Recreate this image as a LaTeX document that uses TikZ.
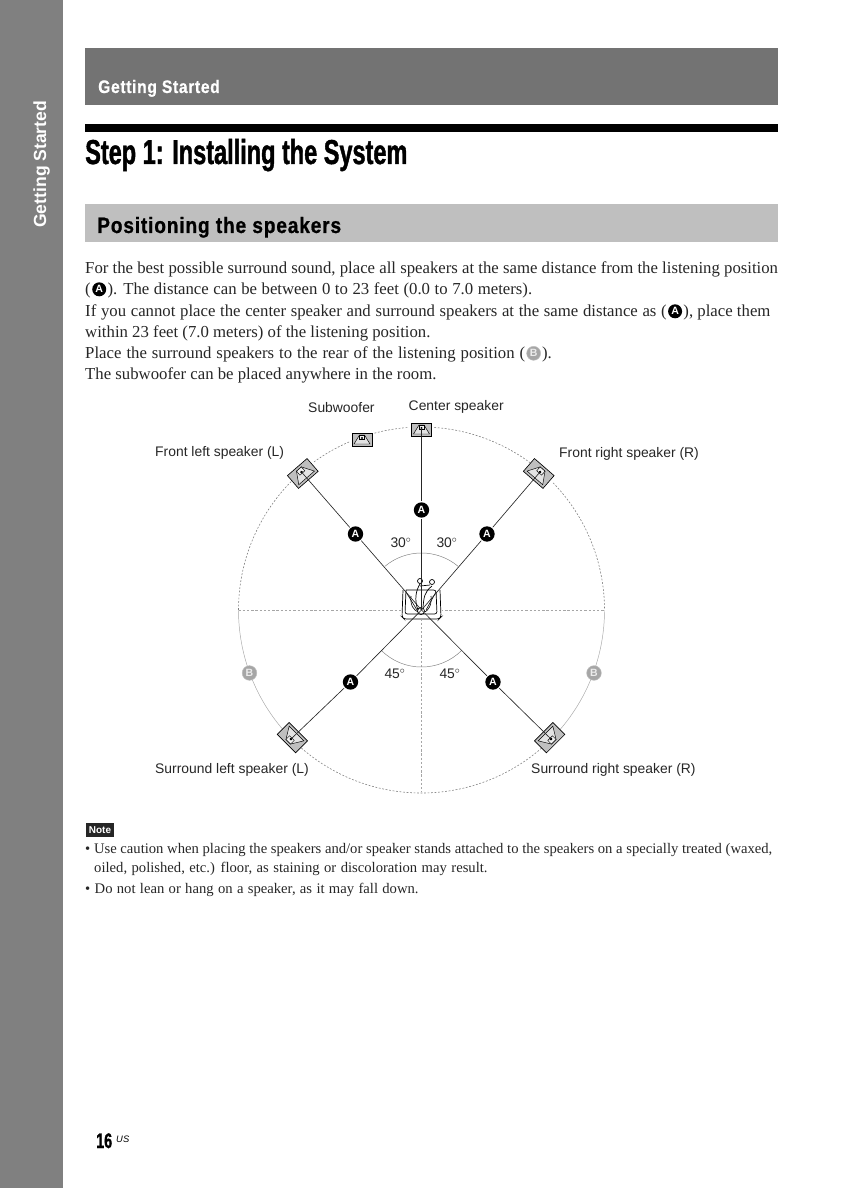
\documentclass[tikz,border=0pt]{standalone}
\usepackage{fontspec}
\setmainfont{Liberation Serif}
\setsansfont{Liberation Sans}
\newfontfamily\headfont[FakeStretch=0.68,FakeBold=1.2]{Liberation Sans}
\newfontfamily\subheadfont[FakeStretch=0.86,FakeBold=0.8,LetterSpace=3.7]{Liberation Sans}
\usetikzlibrary{positioning}
\definecolor{tabgray}{gray}{0.5}
\definecolor{bargray}{gray}{0.45}
\definecolor{subgray}{gray}{0.75}
\definecolor{inkgray}{gray}{0.15}
\tikzset{
  bodytext/.style={anchor=base west, inner sep=0pt, text=inkgray, text height=11pt, text depth=3pt, font=\fontsize{14.3}{16}\selectfont},
  notetext/.style={anchor=base west, inner sep=0pt, text=inkgray, font=\fontsize{12.5}{14}\selectfont},
  wordgap/.style={execute at begin node={\spaceskip=#1\relax}},
  speakerlabel/.style={anchor=base west, inner sep=0pt, text=inkgray, font=\sffamily\fontsize{11.85}{14}\selectfont},
  anglelabel/.style={inner sep=0pt, text=inkgray, font=\sffamily\fontsize{11.85}{14}\selectfont},
  markA/.style={circle, fill=black, text=white, inner sep=0pt, minimum size=0.46cm, outer sep=1pt, font=\sffamily\bfseries\fontsize{9}{9}\selectfont},
  markB/.style={circle, fill=gray!70, draw=gray!50, text=gray!15, inner sep=0pt, minimum size=0.44cm, outer sep=1pt, font=\sffamily\bfseries\fontsize{9}{9}\selectfont},
  leader/.style={line width=0.55pt, black!85},
  dashring/.style={line width=0.5pt, gray, dash pattern=on 1.6pt off 1.4pt},
  thinring/.style={line width=0.4pt, gray!70},
  axisline/.style={line width=0.45pt, gray!70, dash pattern=on 2pt off 1.6pt},
  speaker/.pic={
    \draw[line width=0.55pt, fill=gray!50] (-10,-5) rectangle (10,8);
    \draw[line width=0.4pt, fill=gray!22] (-2.5,-3) -- (2.5,-3) -- (8,6) -- (-8,6) -- cycle;
    \draw[line width=0.4pt, fill=gray!10] (-2.5,-3) rectangle (2.5,1);
    \fill (0,0) circle (1.1);
  }
}
\begin{document}
\begin{tikzpicture}[x=0.03cm, y=-0.03cm]
    \useasboundingbox (0,0) rectangle (840,1188);

    % Side tab and bars
    \fill[tabgray] (0,0) rectangle (63,1188);
    \fill[bargray] (85,48) rectangle (778,105);
    \fill[black] (85,124) rectangle (778,132);
    \fill[subgray] (85,204) rectangle (778,242);
    \node[rotate=90, anchor=base west, inner sep=0pt, text=white, font=\sffamily\bfseries\fontsize{15}{18}\selectfont] (tabTitle) at (46,228) {Getting Started};
    \node[anchor=base west, inner sep=0pt, text=white, font=\subheadfont\bfseries\fontsize{15.5}{18}\selectfont] (barTitle) at (98,93) {Getting Started};
    \node[anchor=base west, inner sep=0pt, font=\headfont\bfseries\fontsize{29.5}{34}\selectfont] (stepTitle) at (85,164) {Step 1: Installing the System};
    \node[anchor=base west, inner sep=0pt, font=\subheadfont\bfseries\fontsize{19}{22}\selectfont] (subTitle) at (97,233) {Positioning the speakers};

    % Paragraph
    \node[bodytext] (lineA) at (85,273) {For the best possible surround sound, place all speakers at the same distance from the listening position};
    \node[bodytext] (lineB) at (85,294) {(};
    \node[markA, minimum size=0.42cm, right=0pt of lineB] (inlineA) {A};
    \node[bodytext, wordgap=3.9pt, right=0pt of inlineA] (lineBb) {). The distance can be between 0 to 23 feet (0.0 to 7.0 meters).};
    \node[bodytext, wordgap=3.97pt] (lineC) at (85,316) {If you cannot place the center speaker and surround speakers at the same distance as (};
    \node[markA, minimum size=0.42cm, right=0pt of lineC] (inlineAb) {A};
    \node[bodytext, right=0pt of inlineAb] (lineCb) {), place them};
    \node[bodytext] (lineD) at (85,337) {within 23 feet (7.0 meters) of the listening position.};
    \node[bodytext, wordgap=4.25pt] (lineE) at (85,358) {Place the surround speakers to the rear of the listening position (};
    \node[markB, minimum size=0.42cm, right=0pt of lineE] (inlineB) {B};
    \node[bodytext, right=0pt of inlineB] (lineEb) {).};
    \node[bodytext] (lineF) at (85,379) {The subwoofer can be placed anywhere in the room.};

    % Positions on the circle
    \coordinate (seat) at (421.5,610);
    \coordinate (spkCenter) at (421.5,428);
    \coordinate (spkSub) at (362,438);
    \coordinate (spkFL) at (301.5,472);
    \coordinate (spkFR) at (540,472);
    \coordinate (spkSL) at (291,739);
    \coordinate (spkSR) at (551,739);
    \coordinate (ringL) at (238.5,610);
    \coordinate (ringR) at (604.5,610);
    \coordinate (ringB) at (421.5,792);

    % Dashed circle and axes
    \draw[dashring] (seat) ++(180:183) arc[start angle=180, end angle=225, radius=183];
    \draw[dashring] (seat) ++(234:183) arc[start angle=234, end angle=247, radius=183];
    \draw[dashring] (seat) ++(254:183) arc[start angle=254, end angle=266, radius=183];
    \draw[dashring] (seat) ++(274:183) arc[start angle=274, end angle=307, radius=183];
    \draw[dashring] (seat) ++(316:183) arc[start angle=316, end angle=360, radius=183];
    \draw[thinring] (seat) ++(0:183) arc[start angle=0, end angle=41, radius=183];
    \draw[thinring] (seat) ++(139:183) arc[start angle=139, end angle=180, radius=183];
    \draw[dashring] (seat) ++(49:183) arc[start angle=49, end angle=131, radius=183];
    \draw[axisline] (ringL) -- (ringR);
    \draw[axisline] (seat) -- (ringB);

    % Angle arcs
    \draw[thinring, gray] (seat) ++(230:57) arc[start angle=230, end angle=310, radius=57];
    \draw[thinring, gray] (seat) ++(45:57) arc[start angle=45, end angle=135, radius=57];

    % Speakers
    \pic at (spkCenter) {speaker};
    \pic at (spkSub) {speaker};
    \pic[rotate=41, scale=1.3] at (spkFL) {speaker};
    \pic[rotate=-41, scale=1.3] at (spkFR) {speaker};
    \pic[rotate=135, scale=1.3] at (spkSL) {speaker};
    \pic[rotate=-135, scale=1.3] at (spkSR) {speaker};

    % Listening position
    \draw[line width=0.5pt, white, fill=white] (402,590) rectangle (441,619);
    \draw[line width=0.6pt, rounded corners=2] (403,590) -- (402,617) -- (404,619) -- (439,619) -- (441,617) -- (440,590);
    \draw[line width=0.6pt, rounded corners=2] (406,590) -- (405,614) -- (437,614) -- (436,590) -- (406,590);
    \draw[line width=0.5pt] (406,592) -- (417,610);
    \draw[line width=0.5pt] (436,592) -- (426,610);
    \draw[line width=0.5pt] (411,596) .. controls (410,606) and (414,610) .. (418,612);
    \draw[line width=0.5pt] (431,596) .. controls (432,606) and (428,610) .. (425,612);
    \draw[line width=0.6pt] (418,610) .. controls (414,600) and (416,590) .. (420,584);
    \draw[line width=0.6pt] (423,607) .. controls (424,598) and (424,592) .. (432,586);
    \draw[line width=0.6pt] (420,581) circle (2.5);
    \draw[line width=0.6pt] (420,586) -- (430,585);
    \draw[line width=0.6pt] (432,582) circle (2.5);
    \draw[line width=0.6pt] (421,611) circle (3.5);

    % Distance marks and lines to the speakers
    \node[markA] (markC) at (421.5,510) {A};
    \node[markA] (markFL) at (355.5,534) {A};
    \node[markA] (markFR) at (487,534) {A};
    \node[markA] (markSL) at (350.5,682) {A};
    \node[markA] (markSR) at (493,682) {A};
    \node[markB] (markBL) at (249.5,673) {B};
    \node[markB] (markBR) at (594,673) {B};
    \draw[leader] (seat) -- (markC);
    \draw[leader] (markC) -- (spkCenter);
    \draw[leader] (seat) -- (markFL);
    \draw[leader] (markFL) -- (spkFL);
    \draw[leader] (seat) -- (markFR);
    \draw[leader] (markFR) -- (spkFR);
    \draw[leader] (seat) -- (markSL);
    \draw[leader] (markSL) -- (spkSL);
    \draw[leader] (seat) -- (markSR);
    \draw[leader] (markSR) -- (spkSR);

    % Labels
    \node[speakerlabel] (labSub) at (308,412) {Subwoofer};
    \node[speakerlabel] (labCenter) at (408.5,410) {Center speaker};
    \node[speakerlabel] (labFL) at (155,456) {Front left speaker (L)};
    \node[speakerlabel] (labFR) at (559,457) {Front right speaker (R)};
    \node[speakerlabel] (labSL) at (155,773) {Surround left speaker (L)};
    \node[speakerlabel] (labSR) at (531,773) {Surround right speaker (R)};
    \node[anglelabel] (angFL) at (401,543) {30$^{\circ}$};
    \node[anglelabel] (angFR) at (447,543) {30$^{\circ}$};
    \node[anglelabel] (angSL) at (395,674) {45$^{\circ}$};
    \node[anglelabel] (angSR) at (450,674) {45$^{\circ}$};

    % Note
    \node[fill=black!85, text=white, inner sep=0pt, minimum width=0.85cm, minimum height=0.42cm, font=\sffamily\bfseries\fontsize{8.5}{9}\selectfont] (noteTag) at (100,830) {Note};
    \node[notetext] (noteA) at (85,853) {\textbullet\ Use caution when placing the speakers and/or speaker stands attached to the speakers on a specially treated (waxed,};
    \node[notetext, wordgap=3.8pt] (noteB) at (94,872) {oiled, polished, etc.) floor, as staining or discoloration may result.};
    \node[notetext, wordgap=3.7pt] (noteC) at (85,893) {\textbullet\ Do not lean or hang on a speaker, as it may fall down.};

    % Page number
    \node[anchor=base west, inner sep=0pt, font=\headfont\bfseries\fontsize{18}{20}\selectfont] (pageNum) at (96,1148) {16};
    \node[anchor=base west, inner sep=0pt, font=\sffamily\itshape\fontsize{8}{10}\selectfont] (pageUS) at (116,1142) {US};
\end{tikzpicture}
\end{document}
